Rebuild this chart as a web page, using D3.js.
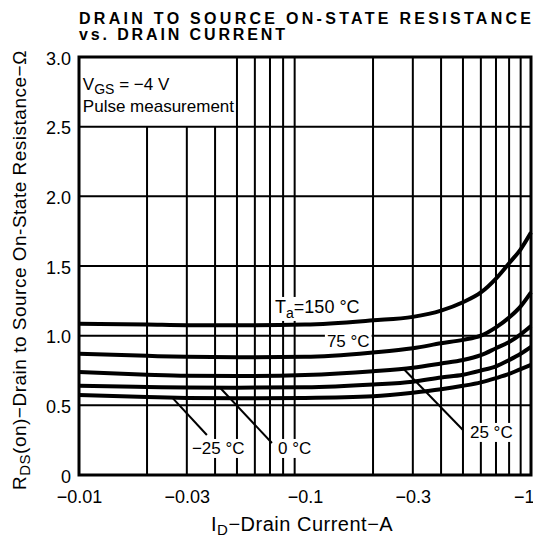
<!DOCTYPE html>
<html>
<head>
<meta charset="utf-8">
<script src="https://cdn.jsdelivr.net/npm/d3@7"></script>
<style>
  body { margin: 0; background: #fff; }
  svg text { font-family: "Liberation Sans", Arial, Helvetica, sans-serif; fill: #000; }
</style>
</head>
<body>
<div id="chart"></div>
<script>
// drain current (A, magnitude) where curves were read
var current = [0.01, 0.02, 0.03, 0.05, 0.1, 0.2, 0.3, 0.4, 0.5, 0.6, 0.7, 0.8, 0.9, 1.0];
// Rds(on) in ohms per ambient temperature
var r150 = [1.085, 1.08, 1.075, 1.075, 1.08, 1.11, 1.135, 1.18, 1.24, 1.31, 1.41, 1.52, 1.62, 1.74];
var r75  = [0.87, 0.855, 0.848, 0.845, 0.848, 0.88, 0.91, 0.945, 0.97, 1.0, 1.06, 1.13, 1.21, 1.31];
var r25  = [0.74, 0.72, 0.712, 0.71, 0.718, 0.745, 0.77, 0.8, 0.825, 0.86, 0.91, 0.955, 1.01, 1.07];
var r0   = [0.64, 0.632, 0.628, 0.627, 0.63, 0.65, 0.67, 0.7, 0.72, 0.75, 0.78, 0.825, 0.87, 0.92];
var rm25 = [0.575, 0.56, 0.553, 0.55, 0.553, 0.565, 0.59, 0.615, 0.64, 0.665, 0.695, 0.725, 0.76, 0.79];

var xTicks = [0.01, 0.03, 0.1, 0.3, 1];
var yTicks = [0, 0.5, 1.0, 1.5, 2.0, 2.5, 3.0];
var xGrid = [0.02, 0.03, 0.04, 0.05, 0.06, 0.07, 0.08, 0.09, 0.2, 0.3, 0.4, 0.5, 0.6, 0.7, 0.8, 0.9];
var yGrid = [0.5, 1.0, 1.5, 2.0, 2.5];

var larg = 533, haut = 540;
var mLeft = 79, mRight = 531, mTop = 57, mBottom = 475;

var svg = d3.select("#chart").append("svg")
    .attr("width", larg)
    .attr("height", haut);

var x = d3.scaleLog().domain([0.01, 1]).range([mLeft, mRight]);
var y = d3.scaleLinear().domain([0, 3]).range([mBottom, mTop]);

// titre
svg.append("text")
    .attr("x", 79).attr("y", 24)
    .attr("font-size", "16px").attr("font-weight", "bold")
    .attr("textLength", 452).attr("lengthAdjust", "spacing")
    .text("DRAIN TO SOURCE ON-STATE RESISTANCE");
svg.append("text")
    .attr("x", 79).attr("y", 40)
    .attr("font-size", "16px").attr("font-weight", "bold")
    .attr("textLength", 206).attr("lengthAdjust", "spacing")
    .text("vs. DRAIN CURRENT");

// grille
svg.selectAll("line.vg")
    .data(xGrid)
    .enter().append("line")
    .attr("x1", function(d){ return x(d); })
    .attr("x2", function(d){ return x(d); })
    .attr("y1", function(d){ return d < 0.05 ? y(2.5) : y(3); })
    .attr("y2", y(0))
    .attr("stroke", "#000").attr("stroke-width", 2);

svg.selectAll("line.hg")
    .data(yGrid)
    .enter().append("line")
    .attr("x1", x(0.01)).attr("x2", x(1))
    .attr("y1", function(d){ return y(d); })
    .attr("y2", function(d){ return y(d); })
    .attr("stroke", "#000").attr("stroke-width", 2);

// étiquettes des courbes (fond blanc)
var labels = [
  {x: 0.0737, y: 1.163, main: "T", sub: "a", rest: "=150 °C", size: 18},
  {x: 0.125, y: 0.919, main: "75 °C", size: 17},
  {x: 0.537, y: 0.266, main: "25 °C", size: 17},
  {x: 0.0316, y: 0.151, main: "\u221225 °C", size: 17},
  {x: 0.076, y: 0.151, main: "0 °C", size: 17}
];
var lg = svg.append("g");
labels.forEach(function(l){
  var g = lg.append("g");
  var t = g.append("text")
      .attr("x", x(l.x)).attr("y", y(l.y))
      .attr("font-size", l.size + "px");
  t.append("tspan").text(l.main);
  if (l.sub) {
    t.append("tspan").attr("font-size", "14px").attr("dy", 5).text(l.sub);
    t.append("tspan").attr("dy", -5).text(l.rest);
  }
  var b = t.node().getBBox();
  g.insert("rect", "text")
      .attr("x", b.x - 2).attr("y", b.y)
      .attr("width", b.width + 4).attr("height", b.height)
      .attr("fill", "#fff");
});

// courbes
var line = d3.line()
    .x(function(d){ return x(d[0]); })
    .y(function(d){ return y(d[1]); })
    .curve(d3.curveMonotoneX);
[r150, r75, r25, r0, rm25].forEach(function(s){
  svg.append("path")
      .datum(current.map(function(c, i){ return [c, s[i]]; }))
      .attr("d", line)
      .attr("fill", "none")
      .attr("stroke", "#000")
      .attr("stroke-width", 4);
});

// lignes de rappel
var leaders = [
  [0.27, 0.77, 0.5, 0.323],
  [0.0258, 0.557, 0.0368, 0.287],
  [0.042, 0.628, 0.0714, 0.23]
];
svg.selectAll("line.ld")
    .data(leaders)
    .enter().append("line")
    .attr("x1", function(d){ return x(d[0]); })
    .attr("y1", function(d){ return y(d[1]); })
    .attr("x2", function(d){ return x(d[2]); })
    .attr("y2", function(d){ return y(d[3]); })
    .attr("stroke", "#000").attr("stroke-width", 2);

// encadré
svg.append("rect")
    .attr("x", x(0.01)).attr("y", y(3))
    .attr("width", x(1) - x(0.01)).attr("height", y(0) - y(3))
    .attr("fill", "none").attr("stroke", "#000").attr("stroke-width", 3);

// conditions
var cond = svg.append("text")
    .attr("x", x(0.0104)).attr("y", y(2.76))
    .attr("font-size", "17px");
cond.append("tspan").text("V");
cond.append("tspan").attr("font-size", "14px").attr("dy", 4).text("GS");
cond.append("tspan").attr("dy", -4).text(" = \u22124 V");
svg.append("text")
    .attr("x", x(0.0104)).attr("y", y(2.605))
    .attr("font-size", "17px")
    .text("Pulse measurement");

// axes
var ax = svg.append("g")
    .attr("transform", "translate(0," + (y(0) + 25) + ")")
    .call(d3.axisBottom(x).tickValues(xTicks).tickSize(0)
      .tickFormat(function(d){ return "\u2212" + d; }));
ax.select(".domain").remove();
ax.selectAll("text").attr("font-size", "18px").attr("dy", 0)
    .attr("font-family", null).attr("fill", "#000");
ax.selectAll(".tick").filter(function(d){ return d === 1; })
    .select("text").attr("text-anchor", "end").attr("x", 3);

var ay = svg.append("g")
    .attr("transform", "translate(" + (x(0.01) - 8) + ",0)")
    .call(d3.axisLeft(y).tickValues(yTicks).tickSize(0)
      .tickFormat(function(d){ return d === 0 ? "0" : d3.format(".1f")(d); }));
ay.select(".domain").remove();
ay.selectAll("text").attr("font-size", "18px").attr("dy", "0.4em").attr("x", 0)
    .attr("font-family", null).attr("fill", "#000");

// titres des axes
var xt = svg.append("text")
    .attr("x", 211).attr("y", 531)
    .attr("font-size", "20px").attr("letter-spacing", "0.5px");
xt.append("tspan").text("I");
xt.append("tspan").attr("font-size", "15px").attr("dy", 4).text("D");
xt.append("tspan").attr("dy", -4).text("\u2212Drain Current\u2212A");

var yt = svg.append("text")
    .attr("transform", "translate(26,490) rotate(-90)")
    .attr("font-size", "19px").attr("letter-spacing", "0.5px");
yt.append("tspan").text("R");
yt.append("tspan").attr("font-size", "15px").attr("dy", 4).text("DS");
yt.append("tspan").attr("dy", -4).text("(on)\u2212Drain to Source On-State Resistance\u2212\u03a9");
</script>
</body>
</html>
